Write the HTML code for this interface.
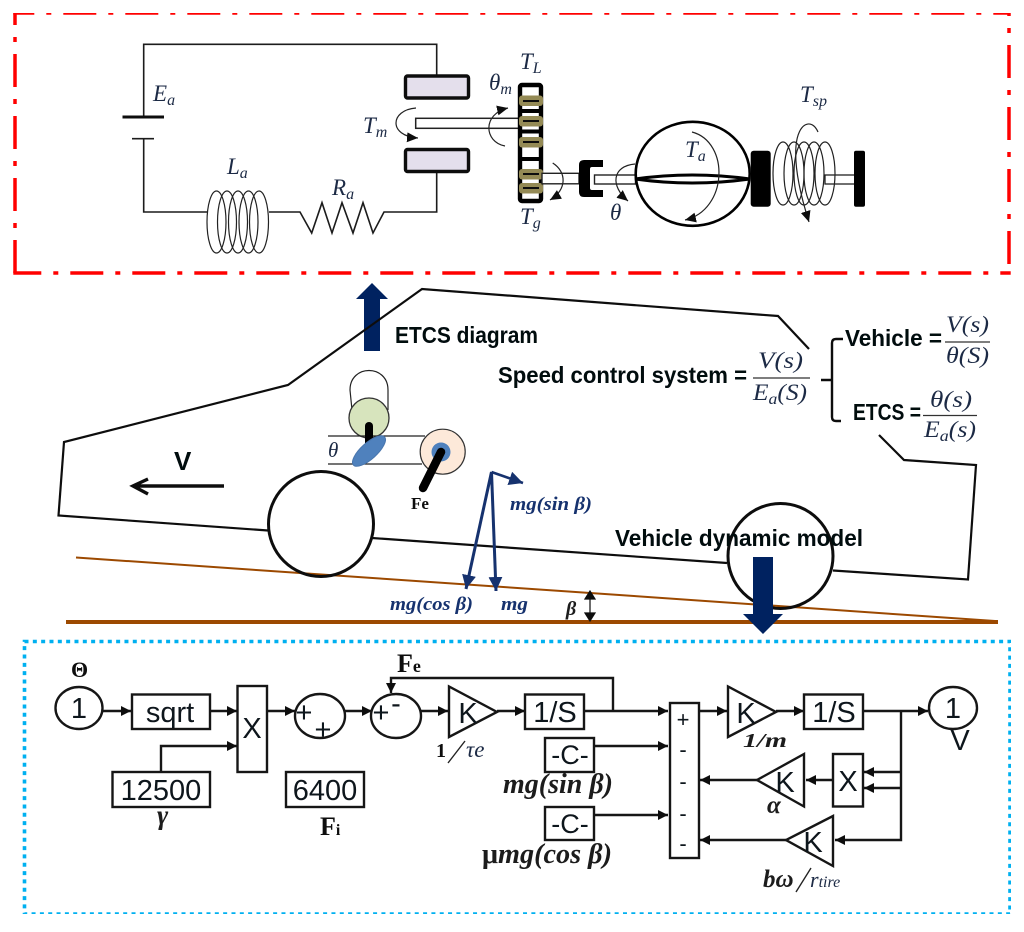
<!DOCTYPE html>
<html><head><meta charset="utf-8"><style>
html,body{margin:0;padding:0;background:#fff}
svg{display:block;width:1024px;height:932px}
.m{font-family:"Liberation Serif",serif;font-style:italic;fill:#1c2a45;font-size:23px}
.sb{font-size:16px}
.s{font-family:"Liberation Sans",sans-serif;font-weight:bold;fill:#05070f}
.b{font-family:"Liberation Sans",sans-serif;fill:#10131a;font-size:29px;text-anchor:middle}
.bi{font-family:"Liberation Serif",serif;font-weight:bold;font-style:italic;fill:#1a1a1a}
.nv{font-family:"Liberation Serif",serif;font-weight:bold;font-style:italic;fill:#14306e;font-size:19px}
.bs{font-family:"Liberation Serif",serif;font-weight:bold;fill:#111}
.w{fill:none;stroke:#1a1a1a;stroke-width:1.6}
.c{fill:none;stroke:#222;stroke-width:1.2}
.k{fill:none;stroke:#151515;stroke-width:2.4}
.bx{fill:#fff;stroke:#151515;stroke-width:2.4}
.car{fill:none;stroke:#111;stroke-width:2.2}
</style></head><body>
<svg xmlns="http://www.w3.org/2000/svg" width="1024" height="932" viewBox="0 0 1024 932">
<defs>
<filter id="f" x="0" y="0" width="100%" height="100%"><feGaussianBlur stdDeviation="0.35"/></filter>
<marker id="a" markerUnits="userSpaceOnUse" markerWidth="12" markerHeight="12" refX="10" refY="5" orient="auto"><path d="M0,0L10,5L0,10Z" fill="#111"/></marker>
<marker id="sm" markerUnits="userSpaceOnUse" markerWidth="14" markerHeight="14" refX="11" refY="5" orient="auto"><path d="M0,0L11,5L0,10Z" fill="#111"/></marker>
<marker id="n" markerUnits="userSpaceOnUse" markerWidth="18" markerHeight="16" refX="14" refY="7" orient="auto"><path d="M0,0L14,7L0,14Z" fill="#14306e"/></marker>
</defs>
<rect width="1024" height="932" fill="#fff"/>
<g filter="url(#f)">
<!-- frames -->
<g fill="none" stroke="#f00" stroke-width="3.5" stroke-dasharray="33 12 5 12">
<path d="M13.300,13H1009" stroke-dashoffset="12"/>
<path d="M15,13V273" stroke-dashoffset="21"/>
<path d="M13.300,273H1010.700" stroke-dashoffset="5"/>
<path d="M1009,13V273" stroke-dashoffset="30"/>
</g>
<rect x="24.500" y="641.500" width="985.500" height="272.500" fill="none" stroke="#00b0f0" stroke-width="3.6" stroke-dasharray="4 4.33"/>

<!-- circuit -->
<path class="w" d="M143.700,117V44.300H436.700V76"/>
<path d="M122.500,117H164" stroke="#111" stroke-width="3" fill="none"/>
<path class="w" d="M132,138.700H154M143.700,138.700V212H207M269,212H300L311.700,233L322,202.700L332,233L342,202.700L353,233L363,202.700L373,233L384,212H436.700V172"/>
<g class="c">
<ellipse cx="216.500" cy="222" rx="9.500" ry="31"/><ellipse cx="227" cy="222" rx="9.500" ry="31"/><ellipse cx="238" cy="222" rx="9.500" ry="31"/><ellipse cx="248.500" cy="222" rx="9.500" ry="31"/><ellipse cx="259" cy="222" rx="9.500" ry="31"/>
</g>
<rect x="405.500" y="76" width="63" height="22" rx="2" fill="#e4dfec" stroke="#111" stroke-width="3.400"/>
<rect x="405.500" y="149.500" width="63" height="22" rx="2" fill="#e4dfec" stroke="#111" stroke-width="3.400"/>
<rect x="415.700" y="118.300" width="105" height="10" fill="#fff" stroke="#222" stroke-width="1.500"/>
<path class="c" d="M416,108C390,110 388,136 418,138" marker-end="url(#sm)" stroke-width="1.300"/>
<path class="c" d="M505,146C484,142 482,114 508,108" marker-end="url(#sm)"/>

<!-- gear -->
<rect x="520" y="85" width="21" height="116" rx="2" fill="#fff" stroke="#000" stroke-width="4.400"/>
<path d="M520,159H541" stroke="#000" stroke-width="4"/>
<path d="M520,111H541M520,131.500H541" stroke="#000" stroke-width="4"/>
<g fill="#948a54">
<rect x="519" y="95.500" width="24" height="10.500" rx="3"/><rect x="519" y="116" width="24" height="10.500" rx="3"/><rect x="519" y="137" width="24" height="10.500" rx="3"/><rect x="519" y="169" width="24" height="10.500" rx="3"/><rect x="519" y="183" width="24" height="10.500" rx="3"/>
</g>
<path d="M523,101H539M523,121H539M523,142H539M523,174H539M523,188H539" stroke="#111" stroke-width="2" fill="none"/>

<!-- output -->
<rect x="542" y="173.300" width="37" height="10.500" fill="#fff" stroke="#222" stroke-width="1.400"/>
<path d="M584,160H603V167H592Q590,167 590,169V188Q590,190 592,190H603V197H584Q579,197 579,192V165Q579,160 584,160Z" fill="#000"/>
<rect x="594.500" y="175" width="41" height="9" fill="#fff" stroke="#222" stroke-width="1.400"/>
<path class="c" d="M552.700,163C567,172 567,190 550,200" marker-end="url(#sm)"/>
<path class="c" d="M635,164C612,166 610,186 628,201" marker-end="url(#sm)"/>
<ellipse cx="692.700" cy="173.800" rx="57" ry="52" fill="#fff" stroke="#000" stroke-width="2.600"/>
<path d="M635,179Q692,171 750,179Q692,187 635,179Z" fill="#fff" stroke="#000" stroke-width="3"/>
<path class="c" d="M692,132C730,142 728,210 685,220" marker-end="url(#sm)"/>
<rect x="750.700" y="150.700" width="20" height="56" rx="3" fill="#000"/>
<rect x="825" y="175" width="30" height="9" fill="#fff" stroke="#222" stroke-width="1.300"/>
<g class="c">
<ellipse cx="783" cy="173.500" rx="10" ry="31.500"/><ellipse cx="794" cy="173.500" rx="10" ry="31.500"/><ellipse cx="804" cy="173.500" rx="10" ry="31.500"/><ellipse cx="814" cy="173.500" rx="10" ry="31.500"/><ellipse cx="825" cy="173.500" rx="10" ry="31.500"/>
</g>
<rect x="854" y="150.700" width="11" height="56" rx="2" fill="#000"/>
<path class="c" d="M818,132C812,118 798,122 796,146C794,170 802,200 809,222" marker-end="url(#sm)"/>

<!-- math labels top -->
<text class="m" x="153" y="101">E<tspan class="sb" dy="4">a</tspan></text>
<text class="m" x="227" y="174">L<tspan class="sb" dy="4">a</tspan></text>
<text class="m" x="332" y="195">R<tspan class="sb" dy="4">a</tspan></text>
<text class="m" x="363" y="133">T<tspan class="sb" dy="4">m</tspan></text>
<text class="m" x="489" y="90">θ<tspan class="sb" dy="4">m</tspan></text>
<text class="m" x="520" y="69">T<tspan class="sb" dy="4">L</tspan></text>
<text class="m" x="520" y="224">T<tspan class="sb" dy="4">g</tspan></text>
<text class="m" x="610" y="220">θ</text>
<text class="m" x="685" y="157">T<tspan class="sb" dy="4">a</tspan></text>
<text class="m" x="800" y="102">T<tspan class="sb" dy="4">sp</tspan></text>

<!-- big arrows -->
<path d="M364,351V299H356L372,283L388,299H380V351Z" fill="#002060"/>

<!-- car -->
<path class="car" d="M268,530.500L58.500,515.500L64,442L288,385L422,289L778,316L809,349"/>
<path class="car" d="M372,538L727,563M833,570.500L968,579.500L976,465L904,460L879,435"/>
<path d="M76,557.500L995,621" stroke="#9c4a00" stroke-width="2" fill="none"/>
<path d="M66,622H998" stroke="#9c4a00" stroke-width="4" fill="none"/>
<circle cx="321" cy="524" r="52.500" fill="none" stroke="#111" stroke-width="3"/>
<circle cx="780.500" cy="556" r="52.500" fill="none" stroke="#111" stroke-width="3"/>
<path d="M224,486H134M148,479L133,486L148,494" fill="none" stroke="#111" stroke-width="3.400"/>
<text class="s" x="174" y="470" font-size="26">V</text>

<!-- throttle -->
<path d="M352,410L350,390C350,364 388,364 388,390L388,410" fill="#fff" stroke="#222" stroke-width="1.200"/>
<circle cx="369" cy="418" r="20" fill="#d7e4bd" stroke="#333" stroke-width="1.300"/>
<path d="M328,436H425M328,464H422" stroke="#222" stroke-width="1.200" fill="none"/>
<path d="M369,426V444" stroke="#000" stroke-width="8" stroke-linecap="round"/>
<ellipse cx="369" cy="451" rx="21" ry="8" transform="rotate(-42 369 451)" fill="#4f81bd" stroke="#4a76ad"/>
<circle cx="442.700" cy="451.700" r="22.500" fill="#fde9d9" stroke="#333" stroke-width="1.200"/>
<circle cx="441" cy="452" r="9.500" fill="#4f81bd"/>
<path d="M441,452L423,488" stroke="#000" stroke-width="8.500" stroke-linecap="round"/>
<text class="m" x="328" y="457" font-size="21" style="font-size:21px">θ</text>
<text class="bs" x="411" y="509" font-size="17">Fe</text>

<!-- forces -->
<path d="M491.500,472L496,591" stroke="#14306e" stroke-width="3" marker-end="url(#n)" fill="none"/>
<path d="M491.500,472L466,589" stroke="#14306e" stroke-width="3" marker-end="url(#n)" fill="none"/>
<path d="M491.500,472L523,483" stroke="#14306e" stroke-width="2.600" marker-end="url(#n)" fill="none"/>
<text class="nv" x="510" y="510" textLength="82" lengthAdjust="spacingAndGlyphs">mg(sin β)</text>
<text class="nv" x="390" y="610" textLength="83" lengthAdjust="spacingAndGlyphs">mg(cos β)</text>
<text class="nv" x="501" y="610" textLength="27" lengthAdjust="spacingAndGlyphs">mg</text>
<text class="bi" x="566" y="615" font-size="20" fill="#222">β</text>
<path d="M590,592V620M585,599L590,591L595,599ZM585,613L590,621L595,613Z" fill="#111" stroke="#111" stroke-width="1.200"/>

<path d="M753,557V614H743L763,634L783,614H773V557Z" fill="#002060"/>
<text class="s" x="395" y="343" font-size="23" textLength="143" lengthAdjust="spacingAndGlyphs">ETCS diagram</text>
<text class="s" x="615" y="546" font-size="23" textLength="248" lengthAdjust="spacingAndGlyphs">Vehicle dynamic model</text>
<text class="s" x="498" y="383" font-size="23" textLength="249" lengthAdjust="spacingAndGlyphs">Speed control system =</text>
<text class="s" x="845" y="346" font-size="23" textLength="97" lengthAdjust="spacingAndGlyphs">Vehicle =</text>
<text class="s" x="853" y="420" font-size="23" textLength="68" lengthAdjust="spacingAndGlyphs">ETCS =</text>
<g fill="none" stroke="#333" stroke-width="1.200">
<path d="M753,378H810M945,342H990M923,415.500H977"/>
</g>
<path d="M821,380H832M843,339H836Q832,339 832,343V417Q832,421 836,421H841" fill="none" stroke="#111" stroke-width="2.400"/>
<text class="m" x="758" y="368" textLength="45" lengthAdjust="spacingAndGlyphs">V(s)</text>
<text class="m" x="753" y="400" textLength="54" lengthAdjust="spacingAndGlyphs">E<tspan class="sb" dy="4">a</tspan><tspan dy="-4">(S)</tspan></text>
<text class="m" x="946" y="332" textLength="43" lengthAdjust="spacingAndGlyphs">V(s)</text>
<text class="m" x="946" y="363" textLength="43" lengthAdjust="spacingAndGlyphs">θ(S)</text>
<text class="m" x="930" y="407" textLength="42" lengthAdjust="spacingAndGlyphs">θ(s)</text>
<text class="m" x="924" y="437" textLength="52" lengthAdjust="spacingAndGlyphs">E<tspan class="sb" dy="4">a</tspan><tspan dy="-4">(s)</tspan></text>

<!-- block diagram -->
<ellipse class="k" cx="79" cy="708" rx="23.500" ry="21" fill="#fff"/>
<text class="b" x="79" y="718">1</text>
<text class="bs" x="71" y="677" font-size="22" style="transform-box:fill-box">Θ</text>
<path class="k" d="M103,711H131" marker-end="url(#a)"/>
<rect class="bx" x="132" y="694.500" width="78" height="34.500"/>
<text class="b" x="170" y="722">sqrt</text>
<path class="k" d="M210,711H237" marker-end="url(#a)"/>
<rect class="bx" x="237.500" y="686" width="29.500" height="86"/>
<text class="b" x="252" y="738">X</text>
<path class="k" d="M267,711H295" marker-end="url(#a)"/>
<ellipse class="k" cx="320" cy="716" rx="25" ry="22"/>
<text class="b" x="304" y="722">+</text><text class="b" x="323" y="739">+</text>
<path class="k" d="M345,711H372" marker-end="url(#a)"/>
<ellipse class="k" cx="396" cy="716" rx="25" ry="22"/>
<text class="b" x="381" y="722">+</text><text class="b" x="396" y="713">-</text>
<path class="k" d="M421,711H448" marker-end="url(#a)"/>
<path class="bx" d="M449,686.500V737L497,712Z"/>
<text class="b" x="468" y="723">K</text>
<path class="k" d="M497,711H525" marker-end="url(#a)"/>
<rect class="bx" x="525" y="694.500" width="59" height="34.500"/>
<text class="b" x="555" y="722">1/S</text>
<path class="k" d="M584,711H668" marker-end="url(#a)"/>
<path class="k" d="M613,711V678H391V693" marker-end="url(#a)"/>
<text class="bs" x="397" y="672" font-size="26">F<tspan font-size="18">e</tspan></text>

<rect class="bx" x="112.500" y="772" width="97.500" height="35"/>
<text class="b" x="161" y="800">12500</text>
<path class="k" d="M161,772V746H237" marker-end="url(#a)"/>
<rect class="bx" x="286" y="772" width="78" height="35"/>
<text class="b" x="325" y="800">6400</text>
<text class="bi" x="157" y="824" font-size="27">γ</text>
<text class="bs" x="320" y="835" font-size="26">F<tspan font-size="16">i</tspan></text>
<text class="bs" x="436" y="757" font-size="20">1</text>
<path d="M448,763L465,741" stroke="#222" stroke-width="1.400" fill="none"/>
<text class="m" x="466" y="757" style="font-size:23px">τe</text>

<rect class="bx" x="545" y="738" width="49" height="34"/>
<text class="b" x="570" y="764" style="font-size:27px">-C-</text>
<rect class="bx" x="545" y="807" width="49" height="33"/>
<text class="b" x="570" y="833" style="font-size:27px">-C-</text>
<path class="k" d="M594,815H668" marker-end="url(#a)"/>
<path class="k" d="M594,746H668" marker-end="url(#a)"/>
<text class="bi" x="503" y="793" font-size="28" textLength="110" lengthAdjust="spacingAndGlyphs">mg(sin β)</text>
<text class="bi" x="482" y="863" font-size="28" textLength="130" lengthAdjust="spacingAndGlyphs"><tspan font-style="normal">μ</tspan>mg(cos β)</text>

<rect class="bx" x="670" y="703" width="29" height="155"/>
<text class="b" x="683" y="727" style="font-size:22px">+</text>
<text class="b" x="683" y="757" style="font-size:22px">-</text>
<text class="b" x="683" y="789" style="font-size:22px">-</text>
<text class="b" x="683" y="821" style="font-size:22px">-</text>
<text class="b" x="683" y="851" style="font-size:22px">-</text>
<path class="k" d="M699,711H727" marker-end="url(#a)"/>
<path class="bx" d="M728,686.500V737L776,712Z"/>
<text class="b" x="746" y="723">K</text>
<text class="bi" x="743" y="747" font-size="20" textLength="44" lengthAdjust="spacingAndGlyphs">1/m</text>
<path class="k" d="M776,711H804" marker-end="url(#a)"/>
<rect class="bx" x="804" y="694.500" width="59" height="34.500"/>
<text class="b" x="834" y="722">1/S</text>
<path class="k" d="M863,711H928" marker-end="url(#a)"/>
<ellipse class="k" cx="953" cy="708" rx="24" ry="21"/>
<text class="b" x="953" y="718">1</text>
<text class="b" x="960" y="750">V</text>
<path class="k" d="M901,711V840H835" marker-end="url(#a)"/>
<path class="k" d="M901,772H864" marker-end="url(#a)"/>
<path class="k" d="M901,788H864" marker-end="url(#a)"/>
<rect class="bx" x="833" y="754" width="30" height="52.500"/>
<text class="b" x="848" y="791">X</text>
<path class="k" d="M833,780H806" marker-end="url(#a)"/>
<path class="bx" d="M804,754V806.500L757,780Z"/>
<text class="b" x="785" y="792">K</text>
<path class="k" d="M757,780H700" marker-end="url(#a)"/>
<text class="bi" x="767" y="813" font-size="25">α</text>
<path class="bx" d="M833,816V866L786,840Z"/>
<text class="b" x="813" y="852">K</text>
<path class="k" d="M786,840H700" marker-end="url(#a)"/>
<text class="bi" x="763" y="887" font-size="25">bω</text>
<path d="M796,892L811,868" stroke="#222" stroke-width="1.400" fill="none"/>
<text class="m" x="810" y="887" style="font-size:22px">r<tspan style="font-size:16px">tire</tspan></text>
</g>
</svg>
</body></html>
